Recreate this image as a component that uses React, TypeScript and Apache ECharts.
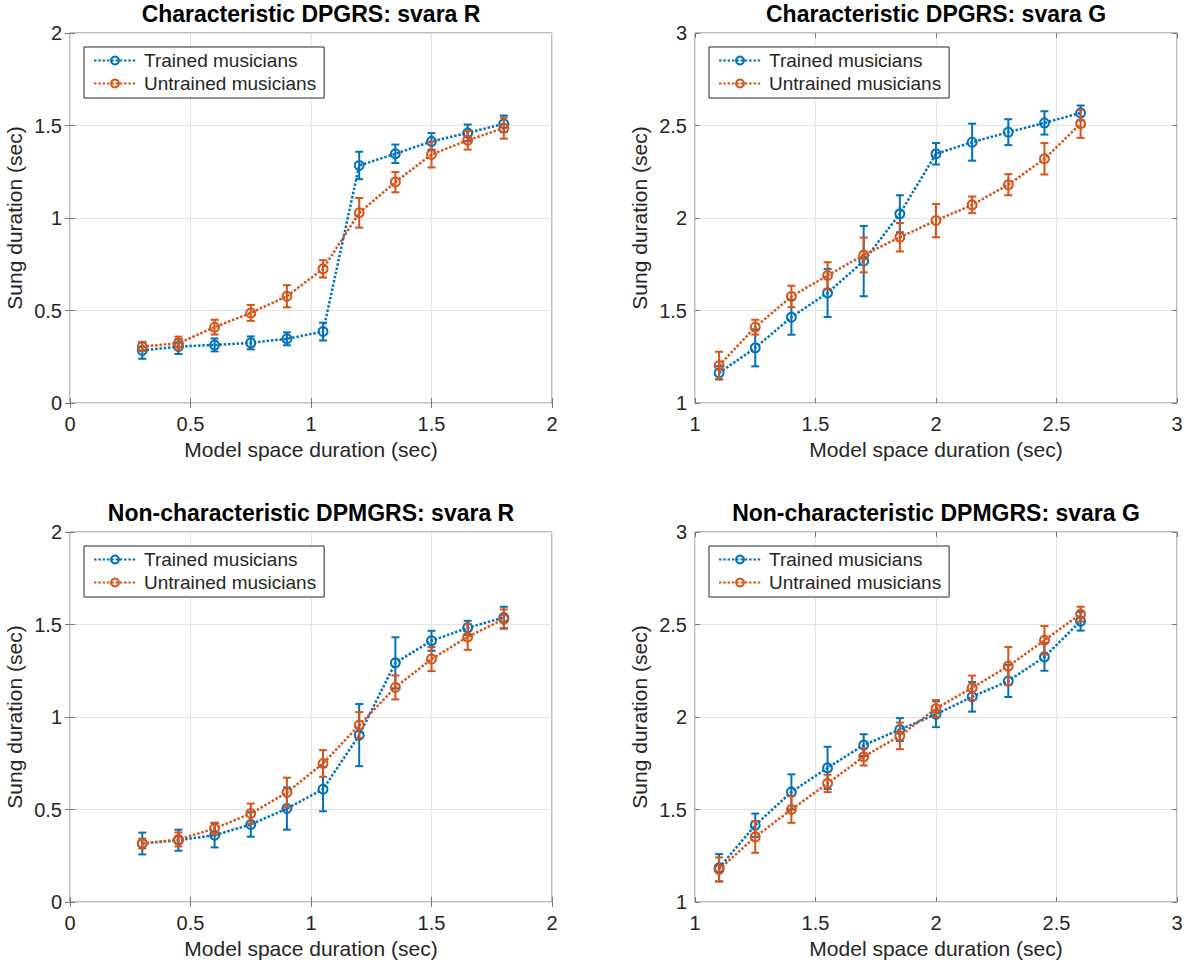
import React, { useEffect, useRef } from "react";
import * as echarts from "echarts";

// x positions (model space durations)
const xR = [0.3, 0.45, 0.6, 0.75, 0.9, 1.05, 1.2, 1.35, 1.5, 1.65, 1.8];
const xG = [1.1, 1.25, 1.4, 1.55, 1.7, 1.85, 2.0, 2.15, 2.3, 2.45, 2.6];

// Characteristic DPGRS: svara R
const charRTrainedMean = [0.284, 0.305, 0.314, 0.325, 0.347, 0.386, 1.284, 1.347, 1.414, 1.46, 1.509];
const charRTrainedErr = [0.045, 0.04, 0.035, 0.035, 0.035, 0.048, 0.074, 0.05, 0.045, 0.045, 0.045];
const charRUntrainedMean = [0.305, 0.323, 0.41, 0.487, 0.577, 0.725, 1.028, 1.194, 1.343, 1.42, 1.486];
const charRUntrainedErr = [0.025, 0.036, 0.04, 0.043, 0.06, 0.047, 0.08, 0.055, 0.07, 0.05, 0.057];

// Characteristic DPGRS: svara G
const charGTrainedMean = [1.163, 1.298, 1.464, 1.595, 1.767, 2.023, 2.347, 2.41, 2.464, 2.514, 2.568];
const charGTrainedErr = [0.036, 0.1, 0.095, 0.13, 0.19, 0.1, 0.058, 0.1, 0.07, 0.063, 0.04];
const charGUntrainedMean = [1.203, 1.41, 1.576, 1.689, 1.8, 1.896, 1.986, 2.071, 2.18, 2.32, 2.509];
const charGUntrainedErr = [0.074, 0.04, 0.058, 0.072, 0.094, 0.077, 0.09, 0.045, 0.057, 0.085, 0.076];

// Non-characteristic DPMGRS: svara R
const nonRTrainedMean = [0.316, 0.334, 0.361, 0.419, 0.505, 0.61, 0.902, 1.293, 1.412, 1.482, 1.538];
const nonRTrainedErr = [0.059, 0.057, 0.066, 0.066, 0.114, 0.12, 0.168, 0.138, 0.054, 0.038, 0.058];
const nonRUntrainedMean = [0.316, 0.338, 0.397, 0.478, 0.592, 0.749, 0.956, 1.16, 1.313, 1.433, 1.529];
const nonRUntrainedErr = [0.027, 0.038, 0.032, 0.054, 0.08, 0.072, 0.07, 0.065, 0.065, 0.07, 0.052];

// Non-characteristic DPMGRS: svara G
const nonGTrainedMean = [1.185, 1.415, 1.595, 1.725, 1.848, 1.932, 2.015, 2.109, 2.195, 2.325, 2.518];
const nonGTrainedErr = [0.074, 0.063, 0.095, 0.114, 0.059, 0.062, 0.07, 0.08, 0.087, 0.075, 0.051];
const nonGUntrainedMean = [1.176, 1.352, 1.5, 1.641, 1.785, 1.898, 2.046, 2.158, 2.275, 2.415, 2.556];
const nonGUntrainedErr = [0.065, 0.086, 0.072, 0.047, 0.047, 0.072, 0.045, 0.066, 0.103, 0.077, 0.04];

const titles = [
  "Characteristic DPGRS: svara R",
  "Characteristic DPGRS: svara G",
  "Non-characteristic DPMGRS: svara R",
  "Non-characteristic DPMGRS: svara G",
];
const seriesNames = ["Trained musicians", "Untrained musicians"];
const xAxisName = "Model space duration (sec)";
const yAxisName = "Sung duration (sec)";

const BLUE = "#0072BD";
const ORANGE = "#D95319";
const FONT = "'Liberation Sans', Arial, Helvetica, sans-serif";
const TXT = "#262626";
const BOX = "#7a7a7a";

type Panel = {
  title: string;
  x: number[];
  tm: number[];
  te: number[];
  um: number[];
  ue: number[];
  min: number;
  max: number;
  left: number;
  top: number;
};

const W = 482;
const H = 370;

const panels: Panel[] = [
  { title: titles[0], x: xR, tm: charRTrainedMean, te: charRTrainedErr, um: charRUntrainedMean, ue: charRUntrainedErr, min: 0, max: 2, left: 70, top: 33 },
  { title: titles[1], x: xG, tm: charGTrainedMean, te: charGTrainedErr, um: charGUntrainedMean, ue: charGUntrainedErr, min: 1, max: 3, left: 695, top: 33 },
  { title: titles[2], x: xR, tm: nonRTrainedMean, te: nonRTrainedErr, um: nonRUntrainedMean, ue: nonRUntrainedErr, min: 0, max: 2, left: 70, top: 532 },
  { title: titles[3], x: xG, tm: nonGTrainedMean, te: nonGTrainedErr, um: nonGUntrainedMean, ue: nonGUntrainedErr, min: 1, max: 3, left: 695, top: 532 },
];

function errRender(color: string) {
  return (params: any, api: any) => {
    const x = api.value(0);
    const lo = api.value(1);
    const hi = api.value(2);
    const p1 = api.coord([x, lo]);
    const p2 = api.coord([x, hi]);
    const cw = 4;
    const style = { stroke: color, lineWidth: 2 };
    return {
      type: "group",
      children: [
        { type: "line", shape: { x1: p1[0], y1: p1[1], x2: p2[0], y2: p2[1] }, style },
        { type: "line", shape: { x1: p1[0] - cw, y1: p1[1], x2: p1[0] + cw, y2: p1[1] }, style },
        { type: "line", shape: { x1: p2[0] - cw, y1: p2[1], x2: p2[0] + cw, y2: p2[1] }, style },
      ],
    };
  };
}

function buildOption() {
  const grid: any[] = [];
  const xAxis: any[] = [];
  const yAxis: any[] = [];
  const series: any[] = [];
  const legend: any[] = [];
  const graphic: any[] = [];

  panels.forEach((p, i) => {
    grid.push({
      left: p.left,
      top: p.top,
      width: W,
      height: H,
      show: true,
      borderColor: BOX,
      borderWidth: 1,
      backgroundColor: "#fff",
    });
    const tick = { show: true, inside: true, length: 5, lineStyle: { color: BOX, width: 1 } };
    xAxis.push({
      type: "value",
      gridIndex: i,
      min: p.min,
      max: p.max,
      interval: 0.5,
      position: "bottom",
      axisLine: { show: false },
      axisTick: tick,
      axisLabel: { color: TXT, fontSize: 20, fontFamily: FONT, margin: 11 },
      splitLine: { show: true, lineStyle: { color: "#e3e3e3", width: 1 } },
      name: xAxisName,
      nameLocation: "middle",
      nameGap: 36,
      nameTextStyle: { color: TXT, fontSize: 21, fontFamily: FONT },
    });
    yAxis.push({
      type: "value",
      gridIndex: i,
      min: p.min,
      max: p.max,
      interval: 0.5,
      position: "left",
      axisLine: { show: false },
      axisTick: tick,
      axisLabel: { color: TXT, fontSize: 20, fontFamily: FONT, margin: 8 },
      splitLine: { show: true, lineStyle: { color: "#e3e3e3", width: 1 } },
      name: yAxisName,
      nameLocation: "middle",
      nameGap: 45,
      nameTextStyle: { color: TXT, fontSize: 21, fontFamily: FONT },
    });
  });
  // secondary (top/right) tick-only axes
  panels.forEach((p, i) => {
    const tick = { show: true, inside: true, length: 5, lineStyle: { color: BOX, width: 1 } };
    xAxis.push({
      type: "value",
      gridIndex: i,
      min: p.min,
      max: p.max,
      interval: 0.5,
      position: "top",
      axisLine: { show: false },
      axisTick: tick,
      axisLabel: { show: false },
      splitLine: { show: false },
    });
    yAxis.push({
      type: "value",
      gridIndex: i,
      min: p.min,
      max: p.max,
      interval: 0.5,
      position: "right",
      axisLine: { show: false },
      axisTick: tick,
      axisLabel: { show: false },
      splitLine: { show: false },
    });
  });

  panels.forEach((p, i) => {
    const groups = [
      { name: seriesNames[0], mean: p.tm, err: p.te, color: BLUE },
      { name: seriesNames[1], mean: p.um, err: p.ue, color: ORANGE },
    ];
    groups.forEach((g, k) => {
      series.push({
        type: "custom",
        name: "err-" + i + "-" + k,
        xAxisIndex: i,
        yAxisIndex: i,
        renderItem: errRender(g.color),
        data: p.x.map((x, j) => [x, g.mean[j] - g.err[j], g.mean[j] + g.err[j]]),
        silent: true,
        z: 2 + k * 2,
      });
      series.push({
        type: "line",
        name: g.name,
        xAxisIndex: i,
        yAxisIndex: i,
        data: p.x.map((x, j) => [x, g.mean[j]]),
        symbol: "circle",
        symbolSize: 9,
        showSymbol: true,
        color: g.color,
        lineStyle: { color: g.color, width: 2.5, type: [2.5, 1.8] },
        itemStyle: { color: "rgba(255,255,255,0)", borderColor: g.color, borderWidth: 2 },
        z: 3 + k * 2,
      });
    });

    legend.push({
      orient: "vertical",
      left: p.left + 14,
      top: p.top + 14,
      data: seriesNames,
      itemWidth: 42,
      itemHeight: 10,
      itemGap: 4,
      padding: [4, 8, 5, 9],
      borderColor: "#262626",
      borderWidth: 1,
      backgroundColor: "#fff",
      textStyle: { color: TXT, fontSize: 19, fontFamily: FONT, padding: [0, 0, 0, 3] },
      selectedMode: false,
    });

    graphic.push({
      type: "text",
      x: p.left + W / 2,
      y: p.top - 19,
      style: {
        text: p.title,
        fill: "#000",
        font: `bold 23px ${FONT}`,
        textAlign: "center",
        textVerticalAlign: "middle",
      },
    });
  });

  return {
    animation: false,
    backgroundColor: "#fff",
    grid,
    xAxis,
    yAxis,
    series,
    legend,
    graphic,
  };
}

export default function App() {
  const ref = useRef<HTMLDivElement>(null);
  useEffect(() => {
    if (!ref.current) return;
    const chart = echarts.init(ref.current, undefined, { renderer: "svg" });
    chart.setOption(buildOption() as any);
    return () => chart.dispose();
  }, []);
  return (
    <div
      ref={ref}
      style={{ position: "absolute", left: 0, top: 0, width: 1188, height: 968, background: "#fff" }}
    />
  );
}
